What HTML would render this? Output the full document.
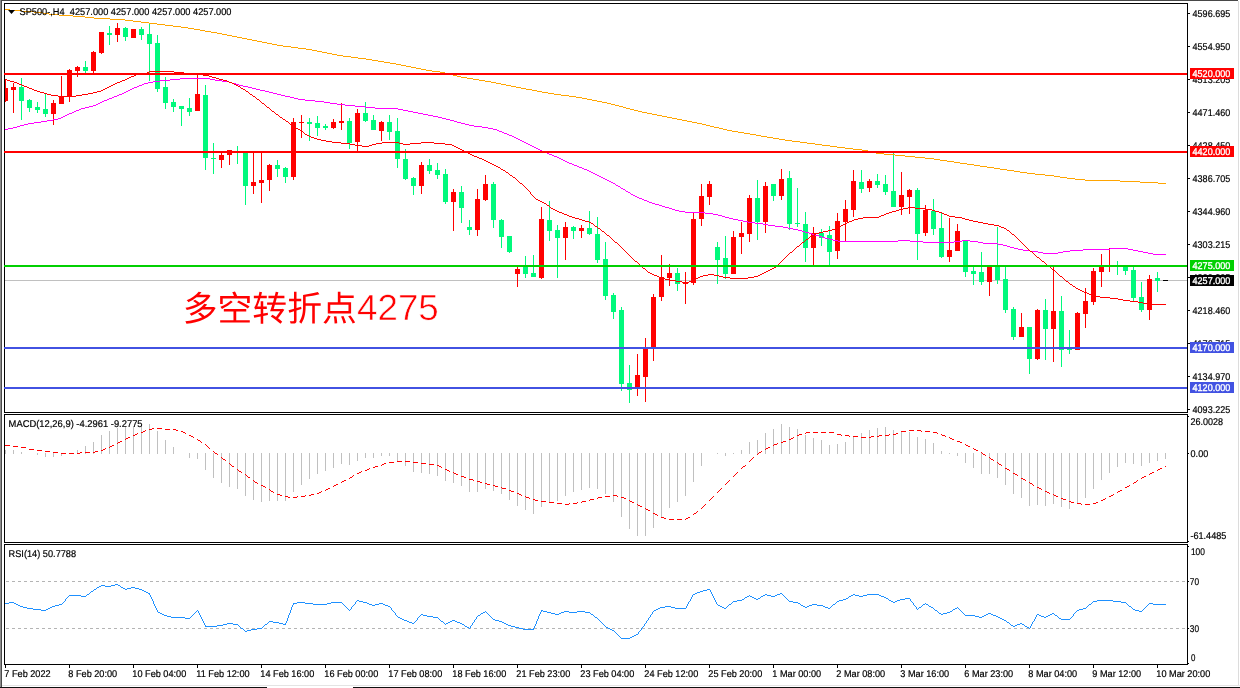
<!DOCTYPE html>
<html><head><meta charset="utf-8"><title>SP500 H4</title>
<style>
html,body{margin:0;padding:0;background:#fff;}
body{width:1240px;height:688px;overflow:hidden;}
svg{display:block;}
svg text{font-family:"Liberation Sans",sans-serif;font-size:9.8px;text-rendering:geometricPrecision;stroke:#000;stroke-width:0.2px;}
svg{will-change:transform;opacity:0.999;}
</style></head><body>
<svg width="1240" height="688" viewBox="0 0 1240 688">
<rect x="0" y="0" width="1240" height="688" fill="#ffffff"/>
<g shape-rendering="crispEdges">
<rect x="0" y="0" width="1238" height="1" fill="#484848"/>
<rect x="0" y="0" width="1" height="688" fill="#8c8c8c"/>
<rect x="1" y="0" width="1" height="688" fill="#4a4a4a"/>
<rect x="1238" y="1" width="1" height="685" fill="#dcdcdc"/>
<rect x="2" y="685" width="1238" height="1" fill="#e4e4e4"/>
<rect x="0" y="687" width="267" height="1" fill="#101010"/>
<rect x="353" y="687" width="887" height="1" fill="#101010"/>
<rect x="4" y="3" width="1184" height="1" fill="#000"/>
<rect x="4" y="412" width="1184" height="1" fill="#000"/>
<rect x="4" y="3" width="1" height="410" fill="#000"/>
<rect x="1187" y="3" width="1" height="410" fill="#000"/>
<rect x="4" y="414" width="1184" height="1" fill="#000"/>
<rect x="4" y="542" width="1184" height="1" fill="#000"/>
<rect x="4" y="414" width="1" height="129" fill="#000"/>
<rect x="1187" y="414" width="1" height="129" fill="#000"/>
<rect x="4" y="544" width="1184" height="1" fill="#000"/>
<rect x="4" y="664" width="1184" height="1" fill="#000"/>
<rect x="4" y="544" width="1" height="121" fill="#000"/>
<rect x="1187" y="544" width="1" height="121" fill="#000"/>
</g>
<g shape-rendering="crispEdges">
<rect x="5" y="280" width="1182" height="1" fill="#c0c0c0"/>
<rect x="5" y="79" width="1" height="23" fill="#ff0000"/>
<rect x="5" y="88" width="3" height="13" fill="#ff0000"/>
<rect x="13" y="83" width="1" height="30" fill="#ff0000"/>
<rect x="11" y="87" width="5" height="3" fill="#ff0000"/>
<rect x="21" y="78" width="1" height="42" fill="#00f97c"/>
<rect x="19" y="87" width="5" height="14" fill="#00f97c"/>
<rect x="29" y="99" width="1" height="13" fill="#00f97c"/>
<rect x="27" y="100" width="5" height="8" fill="#00f97c"/>
<rect x="37" y="102" width="1" height="11" fill="#00f97c"/>
<rect x="35" y="107" width="5" height="3" fill="#00f97c"/>
<rect x="45" y="94" width="1" height="23" fill="#00f97c"/>
<rect x="43" y="109" width="5" height="5" fill="#00f97c"/>
<rect x="53" y="100" width="1" height="25" fill="#ff0000"/>
<rect x="51" y="103" width="5" height="11" fill="#ff0000"/>
<rect x="61" y="76" width="1" height="28" fill="#ff0000"/>
<rect x="59" y="96" width="5" height="8" fill="#ff0000"/>
<rect x="69" y="69" width="1" height="33" fill="#ff0000"/>
<rect x="67" y="70" width="5" height="26" fill="#ff0000"/>
<rect x="77" y="66" width="1" height="11" fill="#ff0000"/>
<rect x="75" y="67" width="5" height="4" fill="#ff0000"/>
<rect x="85" y="61" width="1" height="12" fill="#00f97c"/>
<rect x="83" y="67" width="5" height="4" fill="#00f97c"/>
<rect x="93" y="51" width="1" height="22" fill="#ff0000"/>
<rect x="91" y="52" width="5" height="19" fill="#ff0000"/>
<rect x="101" y="32" width="1" height="22" fill="#ff0000"/>
<rect x="99" y="32" width="5" height="21" fill="#ff0000"/>
<rect x="109" y="26" width="1" height="19" fill="#00f97c"/>
<rect x="107" y="33" width="5" height="2" fill="#00f97c"/>
<rect x="117" y="23" width="1" height="19" fill="#ff0000"/>
<rect x="115" y="28" width="5" height="7" fill="#ff0000"/>
<rect x="125" y="27" width="1" height="14" fill="#00f97c"/>
<rect x="123" y="28" width="5" height="9" fill="#00f97c"/>
<rect x="133" y="29" width="1" height="9" fill="#ff0000"/>
<rect x="131" y="29" width="5" height="9" fill="#ff0000"/>
<rect x="141" y="27" width="1" height="13" fill="#00f97c"/>
<rect x="139" y="29" width="5" height="6" fill="#00f97c"/>
<rect x="149" y="24" width="1" height="57" fill="#00f97c"/>
<rect x="147" y="34" width="5" height="10" fill="#00f97c"/>
<rect x="157" y="35" width="1" height="57" fill="#00f97c"/>
<rect x="155" y="43" width="5" height="46" fill="#00f97c"/>
<rect x="165" y="77" width="1" height="32" fill="#00f97c"/>
<rect x="163" y="87" width="5" height="16" fill="#00f97c"/>
<rect x="173" y="99" width="1" height="13" fill="#00f97c"/>
<rect x="171" y="102" width="5" height="5" fill="#00f97c"/>
<rect x="181" y="106" width="1" height="20" fill="#00f97c"/>
<rect x="179" y="106" width="5" height="3" fill="#00f97c"/>
<rect x="189" y="98" width="1" height="18" fill="#00f97c"/>
<rect x="187" y="108" width="5" height="4" fill="#00f97c"/>
<rect x="197" y="74" width="1" height="37" fill="#ff0000"/>
<rect x="195" y="94" width="5" height="17" fill="#ff0000"/>
<rect x="205" y="85" width="1" height="85" fill="#00f97c"/>
<rect x="203" y="95" width="5" height="63" fill="#00f97c"/>
<rect x="213" y="143" width="1" height="31" fill="#00f97c"/>
<rect x="211" y="158" width="5" height="1" fill="#00f97c"/>
<rect x="221" y="153" width="1" height="15" fill="#ff0000"/>
<rect x="219" y="155" width="5" height="5" fill="#ff0000"/>
<rect x="229" y="150" width="1" height="15" fill="#ff0000"/>
<rect x="227" y="150" width="5" height="5" fill="#ff0000"/>
<rect x="237" y="146" width="1" height="18" fill="#00f97c"/>
<rect x="235" y="152" width="5" height="1" fill="#00f97c"/>
<rect x="245" y="152" width="1" height="53" fill="#00f97c"/>
<rect x="243" y="153" width="5" height="33" fill="#00f97c"/>
<rect x="253" y="153" width="1" height="41" fill="#ff0000"/>
<rect x="251" y="182" width="5" height="4" fill="#ff0000"/>
<rect x="261" y="153" width="1" height="50" fill="#ff0000"/>
<rect x="259" y="180" width="5" height="3" fill="#ff0000"/>
<rect x="269" y="164" width="1" height="27" fill="#ff0000"/>
<rect x="267" y="165" width="5" height="15" fill="#ff0000"/>
<rect x="277" y="160" width="1" height="17" fill="#00f97c"/>
<rect x="275" y="165" width="5" height="4" fill="#00f97c"/>
<rect x="285" y="167" width="1" height="16" fill="#00f97c"/>
<rect x="283" y="168" width="5" height="9" fill="#00f97c"/>
<rect x="293" y="118" width="1" height="62" fill="#ff0000"/>
<rect x="291" y="122" width="5" height="55" fill="#ff0000"/>
<rect x="301" y="115" width="1" height="23" fill="#ff0000"/>
<rect x="299" y="122" width="5" height="1" fill="#ff0000"/>
<rect x="309" y="118" width="1" height="23" fill="#00f97c"/>
<rect x="307" y="122" width="5" height="2" fill="#00f97c"/>
<rect x="317" y="116" width="1" height="20" fill="#00f97c"/>
<rect x="315" y="123" width="5" height="5" fill="#00f97c"/>
<rect x="325" y="124" width="1" height="6" fill="#00f97c"/>
<rect x="323" y="126" width="5" height="2" fill="#00f97c"/>
<rect x="333" y="119" width="1" height="10" fill="#ff0000"/>
<rect x="331" y="122" width="5" height="6" fill="#ff0000"/>
<rect x="341" y="103" width="1" height="27" fill="#ff0000"/>
<rect x="339" y="121" width="5" height="2" fill="#ff0000"/>
<rect x="349" y="118" width="1" height="31" fill="#00f97c"/>
<rect x="347" y="121" width="5" height="22" fill="#00f97c"/>
<rect x="357" y="109" width="1" height="42" fill="#ff0000"/>
<rect x="355" y="113" width="5" height="29" fill="#ff0000"/>
<rect x="365" y="102" width="1" height="20" fill="#00f97c"/>
<rect x="363" y="113" width="5" height="8" fill="#00f97c"/>
<rect x="373" y="115" width="1" height="15" fill="#00f97c"/>
<rect x="371" y="120" width="5" height="10" fill="#00f97c"/>
<rect x="381" y="121" width="1" height="20" fill="#ff0000"/>
<rect x="379" y="122" width="5" height="9" fill="#ff0000"/>
<rect x="389" y="115" width="1" height="25" fill="#00f97c"/>
<rect x="387" y="122" width="5" height="10" fill="#00f97c"/>
<rect x="397" y="118" width="1" height="50" fill="#00f97c"/>
<rect x="395" y="131" width="5" height="28" fill="#00f97c"/>
<rect x="405" y="149" width="1" height="31" fill="#00f97c"/>
<rect x="403" y="159" width="5" height="20" fill="#00f97c"/>
<rect x="413" y="177" width="1" height="18" fill="#00f97c"/>
<rect x="411" y="178" width="5" height="8" fill="#00f97c"/>
<rect x="421" y="162" width="1" height="32" fill="#ff0000"/>
<rect x="419" y="165" width="5" height="21" fill="#ff0000"/>
<rect x="429" y="159" width="1" height="15" fill="#00f97c"/>
<rect x="427" y="165" width="5" height="6" fill="#00f97c"/>
<rect x="437" y="163" width="1" height="16" fill="#00f97c"/>
<rect x="435" y="170" width="5" height="5" fill="#00f97c"/>
<rect x="445" y="169" width="1" height="35" fill="#00f97c"/>
<rect x="443" y="174" width="5" height="28" fill="#00f97c"/>
<rect x="453" y="189" width="1" height="42" fill="#ff0000"/>
<rect x="451" y="192" width="5" height="10" fill="#ff0000"/>
<rect x="461" y="186" width="1" height="37" fill="#00f97c"/>
<rect x="459" y="192" width="5" height="16" fill="#00f97c"/>
<rect x="469" y="220" width="1" height="15" fill="#00f97c"/>
<rect x="467" y="227" width="5" height="3" fill="#00f97c"/>
<rect x="477" y="189" width="1" height="47" fill="#ff0000"/>
<rect x="475" y="199" width="5" height="31" fill="#ff0000"/>
<rect x="485" y="175" width="1" height="26" fill="#ff0000"/>
<rect x="483" y="184" width="5" height="16" fill="#ff0000"/>
<rect x="493" y="182" width="1" height="46" fill="#00f97c"/>
<rect x="491" y="184" width="5" height="36" fill="#00f97c"/>
<rect x="501" y="219" width="1" height="29" fill="#00f97c"/>
<rect x="499" y="220" width="5" height="17" fill="#00f97c"/>
<rect x="509" y="236" width="1" height="17" fill="#00f97c"/>
<rect x="507" y="236" width="5" height="16" fill="#00f97c"/>
<rect x="517" y="267" width="1" height="20" fill="#ff0000"/>
<rect x="515" y="269" width="5" height="5" fill="#ff0000"/>
<rect x="525" y="256" width="1" height="22" fill="#00f97c"/>
<rect x="523" y="265" width="5" height="9" fill="#00f97c"/>
<rect x="533" y="255" width="1" height="22" fill="#00f97c"/>
<rect x="531" y="273" width="5" height="4" fill="#00f97c"/>
<rect x="541" y="207" width="1" height="72" fill="#ff0000"/>
<rect x="539" y="219" width="5" height="59" fill="#ff0000"/>
<rect x="549" y="201" width="1" height="40" fill="#00f97c"/>
<rect x="547" y="220" width="5" height="11" fill="#00f97c"/>
<rect x="557" y="225" width="1" height="53" fill="#00f97c"/>
<rect x="555" y="230" width="5" height="8" fill="#00f97c"/>
<rect x="565" y="222" width="1" height="38" fill="#ff0000"/>
<rect x="563" y="227" width="5" height="11" fill="#ff0000"/>
<rect x="573" y="226" width="1" height="13" fill="#00f97c"/>
<rect x="571" y="227" width="5" height="4" fill="#00f97c"/>
<rect x="581" y="225" width="1" height="13" fill="#ff0000"/>
<rect x="579" y="228" width="5" height="3" fill="#ff0000"/>
<rect x="589" y="211" width="1" height="24" fill="#00f97c"/>
<rect x="587" y="228" width="5" height="6" fill="#00f97c"/>
<rect x="597" y="217" width="1" height="46" fill="#00f97c"/>
<rect x="595" y="234" width="5" height="26" fill="#00f97c"/>
<rect x="605" y="242" width="1" height="58" fill="#00f97c"/>
<rect x="603" y="259" width="5" height="37" fill="#00f97c"/>
<rect x="613" y="293" width="1" height="26" fill="#00f97c"/>
<rect x="611" y="295" width="5" height="17" fill="#00f97c"/>
<rect x="621" y="307" width="1" height="84" fill="#00f97c"/>
<rect x="619" y="310" width="5" height="74" fill="#00f97c"/>
<rect x="629" y="365" width="1" height="38" fill="#00f97c"/>
<rect x="627" y="383" width="5" height="7" fill="#00f97c"/>
<rect x="637" y="354" width="1" height="42" fill="#ff0000"/>
<rect x="635" y="375" width="5" height="13" fill="#ff0000"/>
<rect x="645" y="338" width="1" height="64" fill="#ff0000"/>
<rect x="643" y="348" width="5" height="29" fill="#ff0000"/>
<rect x="653" y="294" width="1" height="67" fill="#ff0000"/>
<rect x="651" y="297" width="5" height="50" fill="#ff0000"/>
<rect x="661" y="255" width="1" height="46" fill="#ff0000"/>
<rect x="659" y="277" width="5" height="20" fill="#ff0000"/>
<rect x="669" y="264" width="1" height="22" fill="#ff0000"/>
<rect x="667" y="273" width="5" height="5" fill="#ff0000"/>
<rect x="677" y="268" width="1" height="23" fill="#00f97c"/>
<rect x="675" y="273" width="5" height="11" fill="#00f97c"/>
<rect x="685" y="272" width="1" height="32" fill="#ff0000"/>
<rect x="683" y="282" width="5" height="2" fill="#ff0000"/>
<rect x="693" y="213" width="1" height="72" fill="#ff0000"/>
<rect x="691" y="219" width="5" height="64" fill="#ff0000"/>
<rect x="701" y="184" width="1" height="42" fill="#ff0000"/>
<rect x="699" y="196" width="5" height="23" fill="#ff0000"/>
<rect x="709" y="181" width="1" height="24" fill="#ff0000"/>
<rect x="707" y="184" width="5" height="13" fill="#ff0000"/>
<rect x="717" y="242" width="1" height="42" fill="#00f97c"/>
<rect x="715" y="247" width="5" height="13" fill="#00f97c"/>
<rect x="725" y="236" width="1" height="43" fill="#00f97c"/>
<rect x="723" y="258" width="5" height="16" fill="#00f97c"/>
<rect x="733" y="231" width="1" height="43" fill="#ff0000"/>
<rect x="731" y="237" width="5" height="37" fill="#ff0000"/>
<rect x="741" y="222" width="1" height="32" fill="#ff0000"/>
<rect x="739" y="233" width="5" height="4" fill="#ff0000"/>
<rect x="749" y="195" width="1" height="47" fill="#ff0000"/>
<rect x="747" y="198" width="5" height="36" fill="#ff0000"/>
<rect x="757" y="180" width="1" height="60" fill="#00f97c"/>
<rect x="755" y="198" width="5" height="24" fill="#00f97c"/>
<rect x="765" y="182" width="1" height="51" fill="#ff0000"/>
<rect x="763" y="186" width="5" height="36" fill="#ff0000"/>
<rect x="773" y="184" width="1" height="17" fill="#00f97c"/>
<rect x="771" y="184" width="5" height="12" fill="#00f97c"/>
<rect x="781" y="169" width="1" height="31" fill="#ff0000"/>
<rect x="779" y="179" width="5" height="17" fill="#ff0000"/>
<rect x="789" y="171" width="1" height="59" fill="#00f97c"/>
<rect x="787" y="178" width="5" height="46" fill="#00f97c"/>
<rect x="797" y="188" width="1" height="39" fill="#00f97c"/>
<rect x="795" y="223" width="5" height="1" fill="#00f97c"/>
<rect x="805" y="212" width="1" height="50" fill="#00f97c"/>
<rect x="803" y="224" width="5" height="24" fill="#00f97c"/>
<rect x="813" y="227" width="1" height="38" fill="#ff0000"/>
<rect x="811" y="233" width="5" height="15" fill="#ff0000"/>
<rect x="821" y="229" width="1" height="17" fill="#00f97c"/>
<rect x="819" y="233" width="5" height="5" fill="#00f97c"/>
<rect x="829" y="226" width="1" height="39" fill="#00f97c"/>
<rect x="827" y="235" width="5" height="17" fill="#00f97c"/>
<rect x="837" y="213" width="1" height="46" fill="#ff0000"/>
<rect x="835" y="221" width="5" height="30" fill="#ff0000"/>
<rect x="845" y="200" width="1" height="41" fill="#ff0000"/>
<rect x="843" y="209" width="5" height="13" fill="#ff0000"/>
<rect x="853" y="170" width="1" height="47" fill="#ff0000"/>
<rect x="851" y="181" width="5" height="29" fill="#ff0000"/>
<rect x="861" y="170" width="1" height="23" fill="#00f97c"/>
<rect x="859" y="182" width="5" height="7" fill="#00f97c"/>
<rect x="869" y="179" width="1" height="13" fill="#ff0000"/>
<rect x="867" y="181" width="5" height="7" fill="#ff0000"/>
<rect x="877" y="174" width="1" height="14" fill="#00f97c"/>
<rect x="875" y="181" width="5" height="4" fill="#00f97c"/>
<rect x="885" y="175" width="1" height="20" fill="#00f97c"/>
<rect x="883" y="184" width="5" height="8" fill="#00f97c"/>
<rect x="893" y="153" width="1" height="54" fill="#00f97c"/>
<rect x="891" y="191" width="5" height="16" fill="#00f97c"/>
<rect x="901" y="172" width="1" height="43" fill="#ff0000"/>
<rect x="899" y="195" width="5" height="12" fill="#ff0000"/>
<rect x="909" y="189" width="1" height="25" fill="#ff0000"/>
<rect x="907" y="190" width="5" height="7" fill="#ff0000"/>
<rect x="917" y="188" width="1" height="72" fill="#00f97c"/>
<rect x="915" y="190" width="5" height="44" fill="#00f97c"/>
<rect x="925" y="205" width="1" height="31" fill="#ff0000"/>
<rect x="923" y="210" width="5" height="23" fill="#ff0000"/>
<rect x="933" y="199" width="1" height="36" fill="#00f97c"/>
<rect x="931" y="211" width="5" height="18" fill="#00f97c"/>
<rect x="941" y="212" width="1" height="46" fill="#00f97c"/>
<rect x="939" y="228" width="5" height="29" fill="#00f97c"/>
<rect x="949" y="218" width="1" height="44" fill="#ff0000"/>
<rect x="947" y="250" width="5" height="7" fill="#ff0000"/>
<rect x="957" y="224" width="1" height="27" fill="#ff0000"/>
<rect x="955" y="231" width="5" height="20" fill="#ff0000"/>
<rect x="965" y="240" width="1" height="37" fill="#00f97c"/>
<rect x="963" y="240" width="5" height="32" fill="#00f97c"/>
<rect x="973" y="267" width="1" height="18" fill="#00f97c"/>
<rect x="971" y="271" width="5" height="3" fill="#00f97c"/>
<rect x="981" y="252" width="1" height="33" fill="#00f97c"/>
<rect x="979" y="272" width="5" height="10" fill="#00f97c"/>
<rect x="989" y="267" width="1" height="29" fill="#ff0000"/>
<rect x="987" y="267" width="5" height="15" fill="#ff0000"/>
<rect x="997" y="227" width="1" height="57" fill="#00f97c"/>
<rect x="995" y="267" width="5" height="13" fill="#00f97c"/>
<rect x="1005" y="267" width="1" height="46" fill="#00f97c"/>
<rect x="1003" y="279" width="5" height="31" fill="#00f97c"/>
<rect x="1013" y="307" width="1" height="33" fill="#00f97c"/>
<rect x="1011" y="309" width="5" height="28" fill="#00f97c"/>
<rect x="1021" y="313" width="1" height="24" fill="#ff0000"/>
<rect x="1019" y="327" width="5" height="10" fill="#ff0000"/>
<rect x="1029" y="327" width="1" height="47" fill="#00f97c"/>
<rect x="1027" y="327" width="5" height="32" fill="#00f97c"/>
<rect x="1037" y="309" width="1" height="51" fill="#ff0000"/>
<rect x="1035" y="310" width="5" height="49" fill="#ff0000"/>
<rect x="1045" y="299" width="1" height="61" fill="#00f97c"/>
<rect x="1043" y="310" width="5" height="19" fill="#00f97c"/>
<rect x="1053" y="267" width="1" height="95" fill="#ff0000"/>
<rect x="1051" y="311" width="5" height="18" fill="#ff0000"/>
<rect x="1061" y="296" width="1" height="71" fill="#00f97c"/>
<rect x="1059" y="311" width="5" height="39" fill="#00f97c"/>
<rect x="1069" y="330" width="1" height="24" fill="#00f97c"/>
<rect x="1067" y="348" width="5" height="2" fill="#00f97c"/>
<rect x="1077" y="312" width="1" height="38" fill="#ff0000"/>
<rect x="1075" y="313" width="5" height="37" fill="#ff0000"/>
<rect x="1085" y="288" width="1" height="40" fill="#ff0000"/>
<rect x="1083" y="301" width="5" height="13" fill="#ff0000"/>
<rect x="1093" y="268" width="1" height="37" fill="#ff0000"/>
<rect x="1091" y="271" width="5" height="31" fill="#ff0000"/>
<rect x="1101" y="254" width="1" height="33" fill="#ff0000"/>
<rect x="1099" y="267" width="5" height="5" fill="#ff0000"/>
<rect x="1109" y="248" width="1" height="24" fill="#ff0000"/>
<rect x="1107" y="265" width="5" height="2" fill="#ff0000"/>
<rect x="1117" y="261" width="1" height="14" fill="#00f97c"/>
<rect x="1115" y="265" width="5" height="2" fill="#00f97c"/>
<rect x="1125" y="267" width="1" height="8" fill="#00f97c"/>
<rect x="1123" y="267" width="5" height="4" fill="#00f97c"/>
<rect x="1133" y="267" width="1" height="34" fill="#00f97c"/>
<rect x="1131" y="270" width="5" height="28" fill="#00f97c"/>
<rect x="1141" y="282" width="1" height="30" fill="#00f97c"/>
<rect x="1139" y="297" width="5" height="13" fill="#00f97c"/>
<rect x="1149" y="275" width="1" height="45" fill="#ff0000"/>
<rect x="1147" y="279" width="5" height="31" fill="#ff0000"/>
<rect x="1157" y="272" width="1" height="20" fill="#00f97c"/>
<rect x="1155" y="278" width="5" height="3" fill="#00f97c"/>
<rect x="1163" y="280" width="5" height="1" fill="#000"/>
</g>
<path d="M5 9.5h5M10 10.5h12M22 11.5h12M34 12.5h9M43 13.5h6M49 14.5h10M59 15.5h14M73 16.5h12M85 17.5h9M94 18.5h16M110 19.5h15M125 20.5h8M133 21.5h8M141 22.5h8M149 23.5h8M157 24.5h8M165 25.5h8M173 26.5h8M181 27.5h7M188 28.5h6M194 29.5h6M200 30.5h5M205 31.5h6M211 32.5h6M217 33.5h5M222 34.5h5M227 35.5h5M232 36.5h5M237 37.5h5M242 38.5h5M247 39.5h5M252 40.5h5M257 41.5h5M262 42.5h5M267 43.5h5M272 44.5h5M277 45.5h6M283 46.5h8M291 47.5h7M298 48.5h8M306 49.5h6M312 50.5h5M317 51.5h5M322 52.5h5M327 53.5h5M332 54.5h5M337 55.5h6M343 56.5h8M351 57.5h7M358 58.5h8M366 59.5h6M372 60.5h6M378 61.5h6M384 62.5h6M390 63.5h6M396 64.5h5M401 65.5h5M406 66.5h5M411 67.5h5M416 68.5h5M421 69.5h5M426 70.5h6M432 71.5h8M440 72.5h5M445 73.5h4M449 74.5h4M453 75.5h4M457 76.5h4M461 77.5h6M467 78.5h6M473 79.5h6M479 80.5h6M485 81.5h6M491 82.5h5M496 83.5h5M501 84.5h5M506 85.5h5M511 86.5h5M516 87.5h5M521 88.5h5M526 89.5h6M532 90.5h5M537 91.5h5M542 92.5h6M548 93.5h6M554 94.5h7M561 95.5h8M569 96.5h7M576 97.5h6M582 98.5h5M587 99.5h5M592 100.5h5M597 101.5h5M602 102.5h5M607 103.5h4M611 104.5h4M615 105.5h4M619 106.5h4M623 107.5h3M626 108.5h4M630 109.5h4M634 110.5h4M638 111.5h4M642 112.5h5M647 113.5h5M652 114.5h5M657 115.5h5M662 116.5h5M667 117.5h5M672 118.5h5M677 119.5h5M682 120.5h5M687 121.5h5M692 122.5h5M697 123.5h5M702 124.5h4M706 125.5h4M710 126.5h4M714 127.5h5M719 128.5h4M723 129.5h4M727 130.5h5M732 131.5h6M738 132.5h6M744 133.5h6M750 134.5h6M756 135.5h5M761 136.5h6M767 137.5h6M773 138.5h6M779 139.5h6M785 140.5h7M792 141.5h8M800 142.5h7M807 143.5h8M815 144.5h7M822 145.5h8M830 146.5h7M837 147.5h8M845 148.5h8M853 149.5h9M862 150.5h6M868 151.5h4M872 152.5h4M876 153.5h8M884 154.5h11M895 155.5h10M905 156.5h10M915 157.5h10M925 158.5h9M934 159.5h6M940 160.5h7M947 161.5h7M954 162.5h6M960 163.5h7M967 164.5h7M974 165.5h6M980 166.5h7M987 167.5h7M994 168.5h6M1000 169.5h7M1007 170.5h7M1014 171.5h6M1020 172.5h7M1027 173.5h8M1035 174.5h10M1045 175.5h9M1054 176.5h6M1060 177.5h7M1067 178.5h8M1075 179.5h10M1085 180.5h35M1120 181.5h20M1140 182.5h18M1158 183.5h8" stroke="#ffa500" stroke-width="1" fill="none" shape-rendering="crispEdges"/>
<path d="M180 78.5h30M170 79.5h10M210 79.5h5M160 80.5h10M215 80.5h7M153 81.5h7M222 81.5h7M148 82.5h5M229 82.5h3M144 83.5h4M232 83.5h4M142 84.5h2M236 84.5h3M139 85.5h3M239 85.5h4M137 86.5h2M243 86.5h5M134 87.5h3M248 87.5h4M132 88.5h2M252 88.5h4M130 89.5h2M256 89.5h4M128 90.5h2M260 90.5h5M126 91.5h2M265 91.5h4M124 92.5h2M269 92.5h4M122 93.5h2M273 93.5h4M119 94.5h3M277 94.5h4M117 95.5h2M281 95.5h4M114 96.5h3M285 96.5h5M112 97.5h2M290 97.5h4M109 98.5h3M294 98.5h4M107 99.5h2M298 99.5h7M104 100.5h3M305 100.5h10M102 101.5h2M315 101.5h9M100 102.5h2M324 102.5h6M98 103.5h2M330 103.5h7M96 104.5h2M337 104.5h8M93 105.5h3M345 105.5h10M89 106.5h4M355 106.5h10M85 107.5h4M365 107.5h10M81 108.5h4M375 108.5h23M79 109.5h2M398 109.5h5M76 110.5h3M403 110.5h5M74 111.5h2M408 111.5h5M72 112.5h2M413 112.5h5M69 113.5h3M418 113.5h5M67 114.5h2M423 114.5h5M65 115.5h2M428 115.5h5M63 116.5h2M433 116.5h5M61 117.5h2M438 117.5h4M58 118.5h3M442 118.5h4M53 119.5h5M446 119.5h4M47 120.5h6M450 120.5h4M41 121.5h6M454 121.5h3M34 122.5h7M457 122.5h4M28 123.5h6M461 123.5h4M24 124.5h4M465 124.5h4M20 125.5h4M469 125.5h5M17 126.5h3M474 126.5h8M13 127.5h4M482 127.5h6M8 128.5h5M488 128.5h5M5 129.5h3M493 129.5h4M497 130.5h2M499 131.5h3M502 132.5h2M504 133.5h3M507 134.5h2M509 135.5h3M512 136.5h2M514 137.5h2M516 138.5h2M518 139.5h2M520 140.5h2M522 141.5h2M524 142.5h2M526 143.5h2M528 144.5h2M530 145.5h2M532 146.5h2M534 147.5h2M536 148.5h2M538 149.5h2M540 150.5h2M542 151.5h2M544 152.5h3M547 153.5h2M549 154.5h3M552 155.5h2M554 156.5h3M557 157.5h2M559 158.5h2M561 159.5h2M563 160.5h2M565 161.5h2M567 162.5h2M569 163.5h3M572 164.5h2M574 165.5h3M577 166.5h2M579 167.5h3M582 168.5h2M584 169.5h3M587 170.5h2M589 171.5h2M591 172.5h2M593 173.5h2M595 174.5h2M597 175.5h2M599 176.5h2M601 177.5h2M603 178.5h2M605 179.5h2M607 180.5h2M609 181.5h2M611 182.5h2M613 183.5h2M615 184.5h1M616 185.5h2M618 186.5h2M620 187.5h1M621 188.5h2M623 189.5h2M625 190.5h1M626 191.5h2M628 192.5h2M630 193.5h1M631 194.5h2M633 195.5h2M635 196.5h2M637 197.5h2M639 198.5h3M642 199.5h2M644 200.5h3M647 201.5h2M649 202.5h3M652 203.5h3M655 204.5h4M659 205.5h3M662 206.5h3M665 207.5h4M669 208.5h3M672 209.5h3M675 210.5h4M679 211.5h6M685 212.5h20M705 213.5h8M713 214.5h5M718 215.5h4M722 216.5h3M725 217.5h4M729 218.5h4M733 219.5h5M738 220.5h5M743 221.5h5M748 222.5h7M755 223.5h8M763 224.5h5M768 225.5h7M775 226.5h8M783 227.5h5M788 228.5h5M793 229.5h5M798 230.5h4M802 231.5h3M805 232.5h4M809 233.5h3M812 234.5h3M815 235.5h4M819 236.5h3M822 237.5h3M825 238.5h4M829 239.5h4M833 240.5h5M898 240.5h12M962 240.5h8M838 241.5h60M910 241.5h13M954 241.5h8M970 241.5h8M923 242.5h31M978 242.5h5M983 243.5h15M998 244.5h5M1003 245.5h4M1007 246.5h3M1010 247.5h4M1014 248.5h4M1110 248.5h18M1018 249.5h5M1083 249.5h27M1128 249.5h5M1023 250.5h7M1070 250.5h13M1133 250.5h5M1030 251.5h8M1063 251.5h7M1138 251.5h5M1038 252.5h5M1058 252.5h5M1143 252.5h5M1043 253.5h15M1148 253.5h5M1153 254.5h13" stroke="#ff00ff" stroke-width="1" fill="none" shape-rendering="crispEdges"/>
<path d="M149 71.5h25M147 72.5h2M174 72.5h10M141 73.5h6M184 73.5h11M136 74.5h5M195 74.5h8M134 75.5h2M203 75.5h6M131 76.5h3M209 76.5h3M129 77.5h2M212 77.5h4M127 78.5h2M216 78.5h3M5 79.5h2M125 79.5h2M219 79.5h4M7 80.5h3M122 80.5h3M223 80.5h4M10 81.5h4M120 81.5h2M227 81.5h2M14 82.5h3M117 82.5h3M229 82.5h3M17 83.5h2M115 83.5h2M232 83.5h2M19 84.5h3M113 84.5h2M234 84.5h2M22 85.5h2M111 85.5h2M236 85.5h2M24 86.5h3M109 86.5h2M238 86.5h2M27 87.5h2M107 87.5h2M240 87.5h1M29 88.5h3M105 88.5h2M241 88.5h2M32 89.5h2M103 89.5h2M243 89.5h2M34 90.5h3M101 90.5h2M245 90.5h1M37 91.5h3M97 91.5h4M246 91.5h2M40 92.5h4M93 92.5h4M248 92.5h1M44 93.5h3M88 93.5h5M249 93.5h1M47 94.5h4M82 94.5h6M250 94.5h2M51 95.5h7M76 95.5h6M252 95.5h1M58 96.5h18M253 96.5h2M255 97.5h1M256 98.5h1M257 99.5h2M259 100.5h1M260 101.5h1M261 102.5h1M262 103.5h2M264 104.5h1M265 105.5h1M266 106.5h1M267 107.5h2M269 108.5h1M270 109.5h1M271 110.5h1M272 111.5h2M274 112.5h1M275 113.5h1M276 114.5h2M278 115.5h1M279 116.5h1M280 117.5h2M282 118.5h1M283 119.5h2M285 120.5h1M286 121.5h2M288 122.5h1M289 123.5h1M290 124.5h2M292 125.5h1M293 126.5h2M295 127.5h1M296 128.5h2M298 129.5h2M300 130.5h1M301 131.5h2M303 132.5h1M304 133.5h1M305 134.5h2M307 135.5h2M309 136.5h2M311 137.5h3M314 138.5h3M317 139.5h4M321 140.5h5M326 141.5h6M332 142.5h9M382 142.5h17M421 142.5h13M341 143.5h9M376 143.5h6M399 143.5h4M410 143.5h11M434 143.5h11M350 144.5h5M372 144.5h4M403 144.5h7M445 144.5h7M355 145.5h7M369 145.5h3M452 145.5h2M362 146.5h7M454 146.5h2M456 147.5h2M458 148.5h2M460 149.5h2M462 150.5h2M464 151.5h2M466 152.5h2M468 153.5h2M470 154.5h2M472 155.5h2M474 156.5h3M477 157.5h2M479 158.5h3M482 159.5h2M484 160.5h2M486 161.5h2M488 162.5h2M490 163.5h2M492 164.5h2M494 165.5h2M496 166.5h2M498 167.5h2M500 168.5h1M501 169.5h2M503 170.5h2M505 171.5h1M506 172.5h2M508 173.5h1M509 174.5h1M510 175.5h2M512 176.5h1M513 177.5h2M515 178.5h1M516 179.5h1M517 180.5h1M518 181.5h1M519 182.5h1M520 183.5h2M522 184.5h1M523 185.5h1M524 186.5h1M525 187.5h1M526 188.5h1M527 189.5h1M528 190.5h1M529 191.5h1M530 192.5h1M530 193.5h1M531 194.5h1M532 195.5h1M533 196.5h1M534 197.5h1M535 198.5h1M536 199.5h2M538 200.5h2M540 201.5h2M542 202.5h2M544 203.5h2M546 204.5h1M547 205.5h2M549 206.5h1M550 207.5h1M908 207.5h7M551 208.5h2M903 208.5h5M915 208.5h10M553 209.5h2M899 209.5h4M925 209.5h7M555 210.5h2M896 210.5h3M932 210.5h3M557 211.5h2M892 211.5h4M935 211.5h4M559 212.5h3M889 212.5h3M939 212.5h3M562 213.5h2M886 213.5h3M942 213.5h2M564 214.5h3M884 214.5h2M944 214.5h3M567 215.5h2M881 215.5h3M947 215.5h2M569 216.5h3M879 216.5h2M949 216.5h6M572 217.5h3M863 217.5h16M955 217.5h7M575 218.5h4M858 218.5h5M962 218.5h3M579 219.5h3M854 219.5h4M965 219.5h4M582 220.5h3M852 220.5h2M969 220.5h4M585 221.5h4M849 221.5h3M973 221.5h5M589 222.5h2M847 222.5h2M978 222.5h5M591 223.5h2M845 223.5h2M983 223.5h5M593 224.5h1M843 224.5h2M988 224.5h6M594 225.5h1M841 225.5h2M994 225.5h5M595 226.5h2M840 226.5h1M999 226.5h2M597 227.5h1M838 227.5h2M1001 227.5h3M598 228.5h2M836 228.5h2M1004 228.5h2M600 229.5h1M832 229.5h4M1006 229.5h1M601 230.5h1M828 230.5h4M1007 230.5h2M602 231.5h2M823 231.5h5M1009 231.5h1M604 232.5h1M819 232.5h4M1010 232.5h1M605 233.5h1M816 233.5h3M1011 233.5h1M606 234.5h1M814 234.5h2M1012 234.5h2M607 235.5h2M812 235.5h2M1014 235.5h1M609 236.5h1M810 236.5h2M1015 236.5h1M610 237.5h1M809 237.5h1M1016 237.5h1M611 238.5h1M808 238.5h1M1017 238.5h1M612 239.5h1M806 239.5h2M1018 239.5h1M613 240.5h1M805 240.5h1M1019 240.5h1M614 241.5h1M804 241.5h1M1020 241.5h1M615 242.5h2M802 242.5h2M1021 242.5h1M617 243.5h1M801 243.5h1M1022 243.5h1M618 244.5h1M800 244.5h1M1023 244.5h1M619 245.5h1M799 245.5h1M1024 245.5h1M620 246.5h1M797 246.5h2M1025 246.5h1M621 247.5h1M796 247.5h1M1026 247.5h1M622 248.5h1M795 248.5h1M1027 248.5h1M623 249.5h1M794 249.5h1M1028 249.5h1M624 250.5h1M793 250.5h1M1029 250.5h1M625 251.5h1M792 251.5h1M1030 251.5h2M626 252.5h1M790 252.5h2M1032 252.5h1M627 253.5h1M789 253.5h1M1033 253.5h1M628 254.5h1M788 254.5h1M1034 254.5h1M629 255.5h1M787 255.5h1M1035 255.5h1M630 256.5h1M786 256.5h1M1036 256.5h1M631 257.5h1M785 257.5h1M1037 257.5h2M632 258.5h1M784 258.5h1M1039 258.5h1M633 259.5h1M783 259.5h1M1040 259.5h1M634 260.5h1M782 260.5h1M1041 260.5h1M635 261.5h2M781 261.5h1M1042 261.5h2M637 262.5h1M780 262.5h1M1044 262.5h1M638 263.5h1M779 263.5h1M1045 263.5h1M639 264.5h1M778 264.5h1M1046 264.5h1M640 265.5h1M777 265.5h1M1047 265.5h2M641 266.5h1M776 266.5h1M1049 266.5h1M642 267.5h1M774 267.5h2M1050 267.5h1M643 268.5h2M772 268.5h2M1051 268.5h1M645 269.5h1M770 269.5h2M1052 269.5h2M646 270.5h1M768 270.5h2M1054 270.5h1M647 271.5h1M766 271.5h2M1055 271.5h1M648 272.5h2M764 272.5h2M1056 272.5h1M650 273.5h2M762 273.5h2M1057 273.5h1M652 274.5h2M708 274.5h6M760 274.5h2M1058 274.5h1M654 275.5h3M703 275.5h5M714 275.5h5M758 275.5h2M1059 275.5h1M657 276.5h2M700 276.5h3M719 276.5h4M754 276.5h4M1060 276.5h2M659 277.5h2M698 277.5h2M723 277.5h7M748 277.5h6M1062 277.5h1M661 278.5h4M696 278.5h2M730 278.5h18M1063 278.5h1M665 279.5h5M695 279.5h1M1064 279.5h1M670 280.5h6M693 280.5h2M1065 280.5h1M676 281.5h6M689 281.5h4M1066 281.5h2M682 282.5h7M1068 282.5h1M1069 283.5h1M1070 284.5h2M1072 285.5h1M1073 286.5h2M1075 287.5h1M1076 288.5h2M1078 289.5h2M1080 290.5h2M1082 291.5h2M1084 292.5h3M1087 293.5h2M1089 294.5h3M1092 295.5h2M1094 296.5h6M1100 297.5h10M1110 298.5h8M1118 299.5h5M1123 300.5h7M1130 301.5h8M1138 302.5h5M1143 303.5h7M1150 304.5h16" stroke="#ff0000" stroke-width="1" fill="none" shape-rendering="crispEdges"/>
<g shape-rendering="crispEdges">
<rect x="4" y="73" width="1183" height="2" fill="#ff0000"/>
<rect x="4" y="151" width="1183" height="2" fill="#ff0000"/>
<rect x="4" y="265" width="1183" height="2" fill="#00d000"/>
<rect x="4" y="347" width="1183" height="2" fill="#4252e2"/>
<rect x="4" y="387" width="1183" height="2" fill="#4252e2"/>
</g>
<path d="M8 10 L15 10 L11.5 14 Z" fill="#000"/>
<text x="19.5" y="15" fill="#000" textLength="212" lengthAdjust="spacingAndGlyphs">SP500-,H4&#160; 4257.000 4257.000 4257.000 4257.000</text>
<g shape-rendering="crispEdges">
<rect x="1188" y="13" width="2" height="1" fill="#000"/>
<rect x="1188" y="46" width="2" height="1" fill="#000"/>
<rect x="1188" y="79" width="2" height="1" fill="#000"/>
<rect x="1188" y="112" width="2" height="1" fill="#000"/>
<rect x="1188" y="145" width="2" height="1" fill="#000"/>
<rect x="1188" y="178" width="2" height="1" fill="#000"/>
<rect x="1188" y="211" width="2" height="1" fill="#000"/>
<rect x="1188" y="244" width="2" height="1" fill="#000"/>
<rect x="1188" y="277" width="2" height="1" fill="#000"/>
<rect x="1188" y="310" width="2" height="1" fill="#000"/>
<rect x="1188" y="343" width="2" height="1" fill="#000"/>
<rect x="1188" y="376" width="2" height="1" fill="#000"/>
<rect x="1188" y="409" width="2" height="1" fill="#000"/>
<rect x="1188" y="453" width="1" height="1" fill="#000"/>
</g>
<text x="1192.6" y="17" fill="#000" textLength="37.6" lengthAdjust="spacingAndGlyphs">4596.695</text>
<text x="1192.6" y="50" fill="#000" textLength="37.6" lengthAdjust="spacingAndGlyphs">4554.950</text>
<text x="1192.6" y="83" fill="#000" textLength="37.6" lengthAdjust="spacingAndGlyphs">4513.205</text>
<text x="1192.6" y="116" fill="#000" textLength="37.6" lengthAdjust="spacingAndGlyphs">4471.460</text>
<text x="1192.6" y="149" fill="#000" textLength="37.6" lengthAdjust="spacingAndGlyphs">4428.450</text>
<text x="1192.6" y="182" fill="#000" textLength="37.6" lengthAdjust="spacingAndGlyphs">4386.705</text>
<text x="1192.6" y="215" fill="#000" textLength="37.6" lengthAdjust="spacingAndGlyphs">4344.960</text>
<text x="1192.6" y="248" fill="#000" textLength="37.6" lengthAdjust="spacingAndGlyphs">4303.215</text>
<text x="1192.6" y="281" fill="#000" textLength="37.6" lengthAdjust="spacingAndGlyphs">4260.205</text>
<text x="1192.6" y="314" fill="#000" textLength="37.6" lengthAdjust="spacingAndGlyphs">4218.460</text>
<text x="1192.6" y="347" fill="#000" textLength="37.6" lengthAdjust="spacingAndGlyphs">4176.715</text>
<text x="1192.6" y="380" fill="#000" textLength="37.6" lengthAdjust="spacingAndGlyphs">4134.970</text>
<text x="1192.6" y="413" fill="#000" textLength="37.6" lengthAdjust="spacingAndGlyphs">4093.225</text>
<rect x="1190" y="68" width="44" height="11" fill="#ff0000" shape-rendering="crispEdges"/>
<text x="1192.6" y="77.4" fill="#fff" textLength="37.6" lengthAdjust="spacingAndGlyphs" style="stroke:#fff;stroke-width:0.35px">4520.000</text>
<rect x="1190" y="146" width="44" height="11" fill="#ff0000" shape-rendering="crispEdges"/>
<text x="1192.6" y="155.4" fill="#fff" textLength="37.6" lengthAdjust="spacingAndGlyphs" style="stroke:#fff;stroke-width:0.35px">4420.000</text>
<rect x="1190" y="260" width="44" height="11" fill="#00d000" shape-rendering="crispEdges"/>
<text x="1192.6" y="269.4" fill="#fff" textLength="37.6" lengthAdjust="spacingAndGlyphs" style="stroke:#fff;stroke-width:0.35px">4275.000</text>
<rect x="1190" y="342" width="44" height="11" fill="#4252e2" shape-rendering="crispEdges"/>
<text x="1192.6" y="351.4" fill="#fff" textLength="37.6" lengthAdjust="spacingAndGlyphs" style="stroke:#fff;stroke-width:0.35px">4170.000</text>
<rect x="1190" y="382" width="44" height="11" fill="#4252e2" shape-rendering="crispEdges"/>
<text x="1192.6" y="391.4" fill="#fff" textLength="37.6" lengthAdjust="spacingAndGlyphs" style="stroke:#fff;stroke-width:0.35px">4120.000</text>
<rect x="1190" y="275" width="44" height="11" fill="#000" shape-rendering="crispEdges"/>
<text x="1192.6" y="284.4" fill="#fff" textLength="37.6" lengthAdjust="spacingAndGlyphs" style="stroke:#fff;stroke-width:0.35px">4257.000</text>
<text x="182.7" y="320.8" fill="#ff0000" style="font-family:'Liberation Sans','Noto Sans CJK SC',sans-serif;font-size:34.8px;stroke:none;text-rendering:geometricPrecision" textLength="174.2" lengthAdjust="spacingAndGlyphs">多空转折点</text>
<text x="357.0" y="319.6" fill="#ff0000" style="font-size:36.4px;stroke:#fff;stroke-width:0.55px;text-rendering:geometricPrecision" textLength="81.8" lengthAdjust="spacingAndGlyphs">4275</text>
<g shape-rendering="crispEdges">
<rect x="5" y="450" width="1" height="4" fill="#c0c0c0"/>
<rect x="13" y="450" width="1" height="4" fill="#c0c0c0"/>
<rect x="21" y="452" width="1" height="2" fill="#c0c0c0"/>
<rect x="37" y="453" width="1" height="2" fill="#c0c0c0"/>
<rect x="45" y="453" width="1" height="4" fill="#c0c0c0"/>
<rect x="53" y="453" width="1" height="4" fill="#c0c0c0"/>
<rect x="61" y="453" width="1" height="3" fill="#c0c0c0"/>
<rect x="77" y="450" width="1" height="4" fill="#c0c0c0"/>
<rect x="85" y="446" width="1" height="8" fill="#c0c0c0"/>
<rect x="93" y="442" width="1" height="12" fill="#c0c0c0"/>
<rect x="101" y="435" width="1" height="19" fill="#c0c0c0"/>
<rect x="109" y="431" width="1" height="23" fill="#c0c0c0"/>
<rect x="117" y="428" width="1" height="26" fill="#c0c0c0"/>
<rect x="125" y="426" width="1" height="28" fill="#c0c0c0"/>
<rect x="133" y="426" width="1" height="28" fill="#c0c0c0"/>
<rect x="141" y="425" width="1" height="29" fill="#c0c0c0"/>
<rect x="149" y="424" width="1" height="30" fill="#c0c0c0"/>
<rect x="157" y="431" width="1" height="23" fill="#c0c0c0"/>
<rect x="165" y="440" width="1" height="14" fill="#c0c0c0"/>
<rect x="173" y="447" width="1" height="7" fill="#c0c0c0"/>
<rect x="189" y="453" width="1" height="5" fill="#c0c0c0"/>
<rect x="197" y="453" width="1" height="6" fill="#c0c0c0"/>
<rect x="205" y="453" width="1" height="17" fill="#c0c0c0"/>
<rect x="213" y="453" width="1" height="25" fill="#c0c0c0"/>
<rect x="221" y="453" width="1" height="30" fill="#c0c0c0"/>
<rect x="229" y="453" width="1" height="34" fill="#c0c0c0"/>
<rect x="237" y="453" width="1" height="36" fill="#c0c0c0"/>
<rect x="245" y="453" width="1" height="43" fill="#c0c0c0"/>
<rect x="253" y="453" width="1" height="47" fill="#c0c0c0"/>
<rect x="261" y="453" width="1" height="49" fill="#c0c0c0"/>
<rect x="269" y="453" width="1" height="48" fill="#c0c0c0"/>
<rect x="277" y="453" width="1" height="48" fill="#c0c0c0"/>
<rect x="285" y="453" width="1" height="48" fill="#c0c0c0"/>
<rect x="293" y="453" width="1" height="39" fill="#c0c0c0"/>
<rect x="301" y="453" width="1" height="32" fill="#c0c0c0"/>
<rect x="309" y="453" width="1" height="26" fill="#c0c0c0"/>
<rect x="317" y="453" width="1" height="21" fill="#c0c0c0"/>
<rect x="325" y="453" width="1" height="18" fill="#c0c0c0"/>
<rect x="333" y="453" width="1" height="15" fill="#c0c0c0"/>
<rect x="341" y="453" width="1" height="11" fill="#c0c0c0"/>
<rect x="349" y="453" width="1" height="12" fill="#c0c0c0"/>
<rect x="357" y="453" width="1" height="8" fill="#c0c0c0"/>
<rect x="365" y="453" width="1" height="5" fill="#c0c0c0"/>
<rect x="373" y="453" width="1" height="5" fill="#c0c0c0"/>
<rect x="381" y="453" width="1" height="3" fill="#c0c0c0"/>
<rect x="389" y="453" width="1" height="3" fill="#c0c0c0"/>
<rect x="397" y="453" width="1" height="8" fill="#c0c0c0"/>
<rect x="405" y="453" width="1" height="13" fill="#c0c0c0"/>
<rect x="413" y="453" width="1" height="19" fill="#c0c0c0"/>
<rect x="421" y="453" width="1" height="20" fill="#c0c0c0"/>
<rect x="429" y="453" width="1" height="21" fill="#c0c0c0"/>
<rect x="437" y="453" width="1" height="23" fill="#c0c0c0"/>
<rect x="445" y="453" width="1" height="28" fill="#c0c0c0"/>
<rect x="453" y="453" width="1" height="30" fill="#c0c0c0"/>
<rect x="461" y="453" width="1" height="33" fill="#c0c0c0"/>
<rect x="469" y="453" width="1" height="39" fill="#c0c0c0"/>
<rect x="477" y="453" width="1" height="39" fill="#c0c0c0"/>
<rect x="485" y="453" width="1" height="36" fill="#c0c0c0"/>
<rect x="493" y="453" width="1" height="38" fill="#c0c0c0"/>
<rect x="501" y="453" width="1" height="41" fill="#c0c0c0"/>
<rect x="509" y="453" width="1" height="47" fill="#c0c0c0"/>
<rect x="517" y="453" width="1" height="53" fill="#c0c0c0"/>
<rect x="525" y="453" width="1" height="57" fill="#c0c0c0"/>
<rect x="533" y="453" width="1" height="61" fill="#c0c0c0"/>
<rect x="541" y="453" width="1" height="54" fill="#c0c0c0"/>
<rect x="549" y="453" width="1" height="49" fill="#c0c0c0"/>
<rect x="557" y="453" width="1" height="48" fill="#c0c0c0"/>
<rect x="565" y="453" width="1" height="43" fill="#c0c0c0"/>
<rect x="573" y="453" width="1" height="39" fill="#c0c0c0"/>
<rect x="581" y="453" width="1" height="37" fill="#c0c0c0"/>
<rect x="589" y="453" width="1" height="35" fill="#c0c0c0"/>
<rect x="597" y="453" width="1" height="36" fill="#c0c0c0"/>
<rect x="605" y="453" width="1" height="41" fill="#c0c0c0"/>
<rect x="613" y="453" width="1" height="49" fill="#c0c0c0"/>
<rect x="621" y="453" width="1" height="64" fill="#c0c0c0"/>
<rect x="629" y="453" width="1" height="76" fill="#c0c0c0"/>
<rect x="637" y="453" width="1" height="83" fill="#c0c0c0"/>
<rect x="645" y="453" width="1" height="83" fill="#c0c0c0"/>
<rect x="653" y="453" width="1" height="75" fill="#c0c0c0"/>
<rect x="661" y="453" width="1" height="64" fill="#c0c0c0"/>
<rect x="669" y="453" width="1" height="55" fill="#c0c0c0"/>
<rect x="677" y="453" width="1" height="49" fill="#c0c0c0"/>
<rect x="685" y="453" width="1" height="43" fill="#c0c0c0"/>
<rect x="693" y="453" width="1" height="29" fill="#c0c0c0"/>
<rect x="701" y="453" width="1" height="13" fill="#c0c0c0"/>
<rect x="717" y="453" width="1" height="1" fill="#c0c0c0"/>
<rect x="725" y="453" width="1" height="3" fill="#c0c0c0"/>
<rect x="733" y="453" width="1" height="1" fill="#c0c0c0"/>
<rect x="741" y="450" width="1" height="4" fill="#c0c0c0"/>
<rect x="749" y="442" width="1" height="12" fill="#c0c0c0"/>
<rect x="757" y="440" width="1" height="14" fill="#c0c0c0"/>
<rect x="765" y="433" width="1" height="21" fill="#c0c0c0"/>
<rect x="773" y="429" width="1" height="25" fill="#c0c0c0"/>
<rect x="781" y="424" width="1" height="30" fill="#c0c0c0"/>
<rect x="789" y="427" width="1" height="27" fill="#c0c0c0"/>
<rect x="797" y="429" width="1" height="25" fill="#c0c0c0"/>
<rect x="805" y="435" width="1" height="19" fill="#c0c0c0"/>
<rect x="813" y="438" width="1" height="16" fill="#c0c0c0"/>
<rect x="821" y="440" width="1" height="14" fill="#c0c0c0"/>
<rect x="829" y="445" width="1" height="9" fill="#c0c0c0"/>
<rect x="837" y="444" width="1" height="10" fill="#c0c0c0"/>
<rect x="845" y="442" width="1" height="12" fill="#c0c0c0"/>
<rect x="853" y="437" width="1" height="17" fill="#c0c0c0"/>
<rect x="861" y="433" width="1" height="21" fill="#c0c0c0"/>
<rect x="869" y="430" width="1" height="24" fill="#c0c0c0"/>
<rect x="877" y="428" width="1" height="26" fill="#c0c0c0"/>
<rect x="885" y="427" width="1" height="27" fill="#c0c0c0"/>
<rect x="893" y="430" width="1" height="24" fill="#c0c0c0"/>
<rect x="901" y="431" width="1" height="23" fill="#c0c0c0"/>
<rect x="909" y="432" width="1" height="22" fill="#c0c0c0"/>
<rect x="917" y="437" width="1" height="17" fill="#c0c0c0"/>
<rect x="925" y="439" width="1" height="15" fill="#c0c0c0"/>
<rect x="933" y="443" width="1" height="11" fill="#c0c0c0"/>
<rect x="941" y="451" width="1" height="3" fill="#c0c0c0"/>
<rect x="949" y="453" width="1" height="1" fill="#c0c0c0"/>
<rect x="957" y="453" width="1" height="3" fill="#c0c0c0"/>
<rect x="965" y="453" width="1" height="10" fill="#c0c0c0"/>
<rect x="973" y="453" width="1" height="15" fill="#c0c0c0"/>
<rect x="981" y="453" width="1" height="21" fill="#c0c0c0"/>
<rect x="989" y="453" width="1" height="21" fill="#c0c0c0"/>
<rect x="997" y="453" width="1" height="25" fill="#c0c0c0"/>
<rect x="1005" y="453" width="1" height="32" fill="#c0c0c0"/>
<rect x="1013" y="453" width="1" height="41" fill="#c0c0c0"/>
<rect x="1021" y="453" width="1" height="45" fill="#c0c0c0"/>
<rect x="1029" y="453" width="1" height="53" fill="#c0c0c0"/>
<rect x="1037" y="453" width="1" height="52" fill="#c0c0c0"/>
<rect x="1045" y="453" width="1" height="53" fill="#c0c0c0"/>
<rect x="1053" y="453" width="1" height="51" fill="#c0c0c0"/>
<rect x="1061" y="453" width="1" height="54" fill="#c0c0c0"/>
<rect x="1069" y="453" width="1" height="56" fill="#c0c0c0"/>
<rect x="1077" y="453" width="1" height="51" fill="#c0c0c0"/>
<rect x="1085" y="453" width="1" height="45" fill="#c0c0c0"/>
<rect x="1093" y="453" width="1" height="36" fill="#c0c0c0"/>
<rect x="1101" y="453" width="1" height="27" fill="#c0c0c0"/>
<rect x="1109" y="453" width="1" height="20" fill="#c0c0c0"/>
<rect x="1117" y="453" width="1" height="14" fill="#c0c0c0"/>
<rect x="1125" y="453" width="1" height="10" fill="#c0c0c0"/>
<rect x="1133" y="453" width="1" height="11" fill="#c0c0c0"/>
<rect x="1141" y="453" width="1" height="13" fill="#c0c0c0"/>
<rect x="1149" y="453" width="1" height="10" fill="#c0c0c0"/>
<rect x="1157" y="453" width="1" height="8" fill="#c0c0c0"/>
<rect x="1165" y="453" width="1" height="6" fill="#c0c0c0"/>
</g>
<path d="M152 428.5h2M157 428.5h5M149 429.5h3M165 429.5h5M173 429.5h3M145 430.5h1M176 430.5h2M909 430.5h5M917 430.5h4M143 431.5h2M181 431.5h2M901 431.5h5M921 431.5h1M925 431.5h5M141 432.5h2M183 432.5h2M806 432.5h4M813 432.5h5M821 432.5h5M829 432.5h5M933 432.5h4M137 433.5h1M185 433.5h1M805 433.5h1M896 433.5h2M937 433.5h1M135 434.5h2M799 434.5h3M837 434.5h4M889 434.5h1M893 434.5h3M941 434.5h1M133 435.5h2M189 435.5h2M797 435.5h2M841 435.5h1M845 435.5h4M879 435.5h3M885 435.5h4M942 435.5h3M191 436.5h2M849 436.5h1M853 436.5h5M871 436.5h3M877 436.5h2M945 436.5h1M128 437.5h2M193 437.5h1M793 437.5h1M861 437.5h5M869 437.5h2M949 437.5h1M126 438.5h2M791 438.5h2M950 438.5h2M125 439.5h1M197 439.5h1M789 439.5h2M952 439.5h2M198 440.5h2M120 441.5h2M200 441.5h1M783 441.5h3M957 441.5h3M118 442.5h2M201 442.5h1M781 442.5h2M960 442.5h2M117 443.5h1M777 443.5h1M205 444.5h1M774 444.5h3M965 444.5h1M5 445.5h5M112 445.5h2M206 445.5h1M773 445.5h1M966 445.5h2M13 446.5h5M110 446.5h2M207 446.5h1M968 446.5h2M21 447.5h5M109 447.5h1M208 447.5h1M768 447.5h2M105 448.5h1M209 448.5h1M766 448.5h2M973 448.5h1M29 449.5h5M103 449.5h2M765 449.5h1M974 449.5h2M37 450.5h5M101 450.5h2M976 450.5h2M45 451.5h5M95 451.5h3M213 451.5h1M761 451.5h1M53 452.5h5M80 452.5h2M85 452.5h5M93 452.5h2M214 452.5h1M759 452.5h2M981 452.5h1M61 453.5h5M69 453.5h5M77 453.5h3M215 453.5h2M758 453.5h1M982 453.5h1M217 454.5h1M757 454.5h1M983 454.5h2M985 455.5h1M221 457.5h1M753 457.5h1M989 457.5h1M222 458.5h1M752 458.5h1M990 458.5h1M223 459.5h2M751 459.5h1M991 459.5h2M225 460.5h1M750 460.5h1M993 460.5h1M397 461.5h5M405 461.5h5M749 461.5h1M389 462.5h5M413 462.5h5M997 462.5h1M229 463.5h1M384 463.5h2M421 463.5h5M998 463.5h1M230 464.5h1M382 464.5h2M429 464.5h5M999 464.5h2M231 465.5h1M381 465.5h1M437 465.5h2M745 465.5h1M1001 465.5h1M232 466.5h2M375 466.5h3M439 466.5h2M743 466.5h2M1165 466.5h1M373 467.5h2M441 467.5h1M742 467.5h1M369 468.5h1M741 468.5h1M1005 468.5h2M1160 468.5h2M237 469.5h1M367 469.5h2M445 469.5h2M1007 469.5h2M1158 469.5h2M238 470.5h1M365 470.5h2M447 470.5h2M1009 470.5h1M1157 470.5h1M239 471.5h2M361 471.5h1M449 471.5h1M241 472.5h1M359 472.5h2M453 472.5h1M737 472.5h1M1152 472.5h2M357 473.5h2M454 473.5h2M736 473.5h1M1013 473.5h2M1150 473.5h2M245 474.5h1M456 474.5h2M735 474.5h1M1015 474.5h2M1149 474.5h1M246 475.5h1M353 475.5h1M734 475.5h1M1017 475.5h1M247 476.5h1M352 476.5h1M461 476.5h3M733 476.5h1M1144 476.5h2M248 477.5h2M350 477.5h2M464 477.5h2M1142 477.5h2M349 478.5h1M1021 478.5h2M1141 478.5h1M469 479.5h4M1023 479.5h2M253 480.5h1M344 480.5h2M473 480.5h1M729 480.5h1M1025 480.5h1M1137 480.5h1M254 481.5h1M342 481.5h2M477 481.5h3M728 481.5h1M1136 481.5h1M255 482.5h2M341 482.5h1M480 482.5h2M727 482.5h1M1029 482.5h1M1134 482.5h2M257 483.5h1M485 483.5h2M726 483.5h1M1030 483.5h2M1133 483.5h1M336 484.5h2M487 484.5h3M725 484.5h1M1032 484.5h1M261 485.5h2M334 485.5h2M493 485.5h2M1033 485.5h1M1129 485.5h1M263 486.5h2M333 486.5h1M495 486.5h3M1127 486.5h2M265 487.5h1M501 487.5h1M1037 487.5h2M1125 487.5h2M328 488.5h2M502 488.5h4M721 488.5h1M1039 488.5h2M269 489.5h1M326 489.5h2M720 489.5h1M1041 489.5h1M270 490.5h1M325 490.5h1M509 490.5h2M719 490.5h1M1120 490.5h2M271 491.5h2M321 491.5h1M511 491.5h3M718 491.5h1M1045 491.5h2M1118 491.5h2M273 492.5h1M319 492.5h2M717 492.5h1M1047 492.5h2M1117 492.5h1M317 493.5h2M517 493.5h2M1049 493.5h1M277 494.5h3M311 494.5h3M519 494.5h2M1053 494.5h1M1113 494.5h1M280 495.5h2M305 495.5h1M309 495.5h2M521 495.5h1M613 495.5h4M1054 495.5h2M1111 495.5h2M285 496.5h3M297 496.5h1M301 496.5h4M525 496.5h1M605 496.5h5M617 496.5h1M713 496.5h1M1056 496.5h2M1109 496.5h2M288 497.5h2M293 497.5h4M526 497.5h3M598 497.5h4M621 497.5h3M712 497.5h1M529 498.5h1M597 498.5h1M624 498.5h2M711 498.5h1M1061 498.5h2M1105 498.5h1M533 499.5h2M590 499.5h4M710 499.5h1M1063 499.5h3M1103 499.5h2M535 500.5h3M589 500.5h1M629 500.5h1M709 500.5h1M1101 500.5h2M541 501.5h5M582 501.5h4M630 501.5h2M1069 501.5h2M549 502.5h5M577 502.5h1M581 502.5h1M632 502.5h2M1071 502.5h3M1096 502.5h2M557 503.5h5M569 503.5h1M573 503.5h4M1077 503.5h4M1093 503.5h3M565 504.5h4M637 504.5h1M705 504.5h1M1081 504.5h1M1085 504.5h5M638 505.5h2M704 505.5h1M640 506.5h2M703 506.5h1M702 507.5h1M645 508.5h1M701 508.5h1M646 509.5h2M648 510.5h2M697 511.5h1M696 512.5h1M653 513.5h2M694 513.5h2M655 514.5h2M693 514.5h1M657 515.5h1M661 517.5h3M688 517.5h2M664 518.5h2M686 518.5h2M669 519.5h5M677 519.5h5M685 519.5h1" stroke="#ff0000" stroke-width="1" fill="none" shape-rendering="crispEdges"/>
<text x="8.6" y="427" fill="#000" textLength="134" lengthAdjust="spacingAndGlyphs">MACD(12,26,9) -4.2961 -9.2775</text>
<text x="1190.4" y="424.6" fill="#000" textLength="32.6" lengthAdjust="spacingAndGlyphs">26.0028</text>
<text x="1190.6" y="457" fill="#000" textLength="17.6" lengthAdjust="spacingAndGlyphs">0.00</text>
<text x="1190.4" y="538.6" fill="#000" textLength="36" lengthAdjust="spacingAndGlyphs">-61.4485</text>
<g shape-rendering="crispEdges">
<line x1="6" y1="581.5" x2="1187" y2="581.5" stroke="#b4b4b4" stroke-width="1" stroke-dasharray="3 3"/>
<line x1="6" y1="628.5" x2="1187" y2="628.5" stroke="#b4b4b4" stroke-width="1" stroke-dasharray="3 3"/>
<rect x="1188" y="416" width="1" height="1" fill="#000"/>
<rect x="1188" y="541" width="1" height="1" fill="#000"/>
<rect x="1188" y="546" width="1" height="1" fill="#000"/>
<rect x="1188" y="663" width="1" height="1" fill="#000"/>
<rect x="1188" y="581" width="1" height="1" fill="#000"/>
<rect x="1188" y="628" width="1" height="1" fill="#000"/>
</g>
<path d="M115 584.5h3M101 585.5h4M111 585.5h4M118 585.5h2M99 586.5h2M105 586.5h6M120 586.5h1M97 587.5h2M121 587.5h2M131 587.5h4M96 588.5h1M123 588.5h2M127 588.5h4M135 588.5h4M94 589.5h2M125 589.5h2M139 589.5h3M707 589.5h3M93 590.5h1M142 590.5h2M703 590.5h4M710 590.5h1M91 591.5h2M144 591.5h2M700 591.5h3M710 591.5h1M90 592.5h1M146 592.5h2M697 592.5h3M711 592.5h1M89 593.5h1M148 593.5h2M695 593.5h2M711 593.5h1M780 593.5h2M87 594.5h2M149 594.5h1M693 594.5h2M712 594.5h1M765 594.5h2M777 594.5h3M782 594.5h1M853 594.5h2M867 594.5h12M69 595.5h12M86 595.5h1M150 595.5h1M692 595.5h1M712 595.5h1M749 595.5h1M763 595.5h2M767 595.5h4M775 595.5h2M783 595.5h1M851 595.5h2M855 595.5h4M863 595.5h4M879 595.5h2M68 596.5h1M81 596.5h5M150 596.5h1M692 596.5h1M713 596.5h1M747 596.5h2M750 596.5h2M761 596.5h2M771 596.5h4M784 596.5h1M849 596.5h2M859 596.5h4M881 596.5h3M67 597.5h1M151 597.5h1M691 597.5h1M713 597.5h1M745 597.5h2M752 597.5h2M760 597.5h1M785 597.5h1M848 597.5h1M884 597.5h2M66 598.5h1M151 598.5h1M691 598.5h1M714 598.5h1M744 598.5h1M754 598.5h2M758 598.5h2M786 598.5h1M846 598.5h2M886 598.5h2M905 598.5h5M65 599.5h1M152 599.5h1M690 599.5h1M714 599.5h1M742 599.5h2M756 599.5h2M787 599.5h1M843 599.5h3M888 599.5h1M900 599.5h5M910 599.5h1M65 600.5h1M152 600.5h1M357 600.5h2M690 600.5h1M715 600.5h1M737 600.5h5M788 600.5h1M839 600.5h4M889 600.5h2M897 600.5h3M910 600.5h1M1097 600.5h16M64 601.5h1M153 601.5h1M356 601.5h1M359 601.5h4M689 601.5h1M715 601.5h1M733 601.5h4M789 601.5h4M837 601.5h2M891 601.5h2M895 601.5h2M911 601.5h1M1093 601.5h4M1113 601.5h8M9 602.5h5M63 602.5h1M153 602.5h1M297 602.5h8M331 602.5h11M355 602.5h1M363 602.5h4M688 602.5h1M716 602.5h1M732 602.5h1M793 602.5h5M836 602.5h1M893 602.5h2M912 602.5h1M1092 602.5h1M1121 602.5h5M5 603.5h4M14 603.5h2M62 603.5h1M153 603.5h1M293 603.5h4M305 603.5h8M327 603.5h4M342 603.5h1M355 603.5h1M367 603.5h2M379 603.5h4M688 603.5h1M716 603.5h1M731 603.5h1M798 603.5h2M835 603.5h1M913 603.5h1M925 603.5h1M1091 603.5h1M1126 603.5h1M1149 603.5h4M16 604.5h2M59 604.5h3M154 604.5h1M293 604.5h1M313 604.5h14M343 604.5h1M354 604.5h1M369 604.5h3M375 604.5h4M383 604.5h2M687 604.5h1M717 604.5h1M729 604.5h2M800 604.5h1M812 604.5h5M833 604.5h2M913 604.5h1M923 604.5h2M926 604.5h2M1089 604.5h2M1127 604.5h1M1148 604.5h1M1153 604.5h13M18 605.5h2M55 605.5h4M154 605.5h1M292 605.5h1M344 605.5h1M353 605.5h1M372 605.5h3M385 605.5h3M687 605.5h1M718 605.5h2M728 605.5h1M801 605.5h2M809 605.5h3M817 605.5h6M832 605.5h1M914 605.5h1M922 605.5h1M928 605.5h1M1088 605.5h1M1128 605.5h1M1147 605.5h1M20 606.5h3M52 606.5h3M155 606.5h1M292 606.5h1M345 606.5h1M352 606.5h1M388 606.5h2M665 606.5h6M686 606.5h1M720 606.5h2M727 606.5h1M803 606.5h2M807 606.5h2M823 606.5h2M831 606.5h1M915 606.5h1M921 606.5h1M929 606.5h2M1087 606.5h1M1129 606.5h2M1146 606.5h1M23 607.5h4M50 607.5h2M155 607.5h1M291 607.5h1M346 607.5h1M351 607.5h1M390 607.5h1M660 607.5h5M671 607.5h4M686 607.5h1M722 607.5h2M726 607.5h1M805 607.5h2M825 607.5h3M830 607.5h1M916 607.5h1M919 607.5h2M931 607.5h2M957 607.5h1M1086 607.5h1M1131 607.5h1M1145 607.5h1M27 608.5h6M48 608.5h2M156 608.5h1M291 608.5h1M347 608.5h1M351 608.5h1M391 608.5h1M658 608.5h2M675 608.5h11M724 608.5h2M828 608.5h2M916 608.5h1M918 608.5h1M933 608.5h1M955 608.5h2M958 608.5h1M1083 608.5h3M1132 608.5h1M1144 608.5h1M33 609.5h8M46 609.5h2M156 609.5h1M291 609.5h1M348 609.5h1M350 609.5h1M391 609.5h1M656 609.5h2M917 609.5h1M934 609.5h1M953 609.5h2M959 609.5h1M1079 609.5h4M1133 609.5h2M1143 609.5h1M41 610.5h5M157 610.5h1M197 610.5h1M290 610.5h1M349 610.5h1M392 610.5h1M541 610.5h2M654 610.5h2M935 610.5h2M952 610.5h1M960 610.5h1M1077 610.5h2M1135 610.5h4M1142 610.5h1M157 611.5h1M196 611.5h1M198 611.5h1M290 611.5h1M393 611.5h1M485 611.5h1M541 611.5h1M543 611.5h4M564 611.5h5M577 611.5h8M653 611.5h1M937 611.5h1M950 611.5h2M961 611.5h1M1076 611.5h1M1139 611.5h3M158 612.5h2M195 612.5h1M198 612.5h1M290 612.5h1M394 612.5h1M483 612.5h2M486 612.5h1M540 612.5h1M547 612.5h4M561 612.5h3M569 612.5h8M585 612.5h5M652 612.5h1M938 612.5h1M947 612.5h3M962 612.5h1M1075 612.5h1M160 613.5h2M194 613.5h1M199 613.5h1M289 613.5h1M395 613.5h1M481 613.5h2M487 613.5h1M540 613.5h1M551 613.5h4M559 613.5h2M590 613.5h1M652 613.5h1M939 613.5h2M943 613.5h4M963 613.5h1M988 613.5h3M1052 613.5h2M1074 613.5h1M162 614.5h2M193 614.5h1M199 614.5h1M289 614.5h1M395 614.5h1M421 614.5h2M480 614.5h1M488 614.5h1M539 614.5h1M555 614.5h4M591 614.5h2M651 614.5h1M941 614.5h2M964 614.5h1M986 614.5h2M991 614.5h2M1037 614.5h2M1050 614.5h2M1054 614.5h1M1073 614.5h1M164 615.5h3M192 615.5h1M200 615.5h1M288 615.5h1M396 615.5h1M420 615.5h1M423 615.5h4M478 615.5h2M489 615.5h1M539 615.5h1M593 615.5h1M650 615.5h1M965 615.5h10M984 615.5h2M993 615.5h3M1036 615.5h1M1039 615.5h2M1048 615.5h2M1055 615.5h2M1073 615.5h1M167 616.5h4M191 616.5h1M200 616.5h1M288 616.5h1M397 616.5h1M419 616.5h1M427 616.5h6M477 616.5h1M490 616.5h1M538 616.5h1M594 616.5h1M650 616.5h1M975 616.5h4M982 616.5h2M996 616.5h2M1036 616.5h1M1041 616.5h3M1046 616.5h2M1057 616.5h1M1072 616.5h1M171 617.5h14M190 617.5h1M201 617.5h1M288 617.5h1M398 617.5h2M418 617.5h1M433 617.5h5M476 617.5h1M491 617.5h1M538 617.5h1M595 617.5h2M649 617.5h1M979 617.5h3M998 617.5h2M1035 617.5h1M1044 617.5h2M1058 617.5h1M1071 617.5h1M185 618.5h5M201 618.5h1M287 618.5h1M400 618.5h2M417 618.5h1M438 618.5h1M476 618.5h1M492 618.5h1M538 618.5h1M597 618.5h1M648 618.5h1M1000 618.5h2M1035 618.5h1M1059 618.5h2M1070 618.5h1M202 619.5h1M287 619.5h1M402 619.5h2M417 619.5h1M439 619.5h1M475 619.5h1M493 619.5h2M537 619.5h1M598 619.5h1M648 619.5h1M1002 619.5h2M1034 619.5h1M1061 619.5h9M202 620.5h1M287 620.5h1M404 620.5h3M416 620.5h1M440 620.5h1M452 620.5h3M474 620.5h1M495 620.5h4M537 620.5h1M599 620.5h1M647 620.5h1M1004 620.5h2M1034 620.5h1M203 621.5h1M269 621.5h4M286 621.5h1M407 621.5h2M415 621.5h1M441 621.5h2M450 621.5h2M455 621.5h2M474 621.5h1M499 621.5h3M536 621.5h1M600 621.5h1M646 621.5h1M1006 621.5h1M1033 621.5h1M203 622.5h1M268 622.5h1M273 622.5h6M286 622.5h1M409 622.5h3M414 622.5h1M443 622.5h1M448 622.5h2M457 622.5h3M473 622.5h1M502 622.5h2M536 622.5h1M601 622.5h1M646 622.5h1M1007 622.5h2M1032 622.5h1M204 623.5h1M227 623.5h6M267 623.5h1M279 623.5h4M285 623.5h1M412 623.5h2M444 623.5h1M446 623.5h2M460 623.5h2M472 623.5h1M504 623.5h2M536 623.5h1M602 623.5h1M645 623.5h1M1009 623.5h1M1020 623.5h2M1032 623.5h1M204 624.5h1M223 624.5h4M233 624.5h5M265 624.5h2M283 624.5h3M445 624.5h1M462 624.5h2M472 624.5h1M506 624.5h2M535 624.5h1M603 624.5h1M644 624.5h1M1010 624.5h1M1017 624.5h3M1022 624.5h2M1031 624.5h1M205 625.5h1M217 625.5h6M238 625.5h1M264 625.5h1M464 625.5h1M471 625.5h1M508 625.5h3M535 625.5h1M604 625.5h1M644 625.5h1M1011 625.5h2M1015 625.5h2M1024 625.5h1M1031 625.5h1M205 626.5h12M239 626.5h1M263 626.5h1M465 626.5h2M470 626.5h1M511 626.5h4M534 626.5h1M605 626.5h1M643 626.5h1M1013 626.5h2M1025 626.5h2M1030 626.5h1M240 627.5h1M262 627.5h1M467 627.5h2M470 627.5h1M515 627.5h4M534 627.5h1M606 627.5h2M642 627.5h1M1027 627.5h2M1030 627.5h1M241 628.5h2M257 628.5h5M469 628.5h1M519 628.5h4M533 628.5h1M608 628.5h2M641 628.5h1M1029 628.5h1M243 629.5h1M251 629.5h6M523 629.5h11M610 629.5h2M641 629.5h1M244 630.5h1M247 630.5h4M612 630.5h2M640 630.5h1M245 631.5h2M614 631.5h1M639 631.5h1M615 632.5h1M638 632.5h1M616 633.5h1M638 633.5h1M617 634.5h1M636 634.5h2M618 635.5h1M634 635.5h2M619 636.5h1M632 636.5h2M620 637.5h1M630 637.5h2M621 638.5h9" stroke="#1e90ff" stroke-width="1" fill="none" shape-rendering="crispEdges"/>
<text x="8.6" y="557" fill="#000" textLength="67.5" lengthAdjust="spacingAndGlyphs">RSI(14) 50.7788</text>
<text x="1190.9" y="554.8" fill="#000" textLength="14" lengthAdjust="spacingAndGlyphs">100</text>
<text x="1189.8" y="585" fill="#000" textLength="9.2" lengthAdjust="spacingAndGlyphs">70</text>
<text x="1189.8" y="632" fill="#000" textLength="9.2" lengthAdjust="spacingAndGlyphs">30</text>
<text x="1190.9" y="661.3" fill="#000" textLength="4.4" lengthAdjust="spacingAndGlyphs">0</text>
<g shape-rendering="crispEdges">
<rect x="5" y="665" width="1" height="3" fill="#000"/>
<rect x="69" y="665" width="1" height="3" fill="#000"/>
<rect x="133" y="665" width="1" height="3" fill="#000"/>
<rect x="197" y="665" width="1" height="3" fill="#000"/>
<rect x="261" y="665" width="1" height="3" fill="#000"/>
<rect x="325" y="665" width="1" height="3" fill="#000"/>
<rect x="389" y="665" width="1" height="3" fill="#000"/>
<rect x="453" y="665" width="1" height="3" fill="#000"/>
<rect x="517" y="665" width="1" height="3" fill="#000"/>
<rect x="581" y="665" width="1" height="3" fill="#000"/>
<rect x="645" y="665" width="1" height="3" fill="#000"/>
<rect x="709" y="665" width="1" height="3" fill="#000"/>
<rect x="773" y="665" width="1" height="3" fill="#000"/>
<rect x="837" y="665" width="1" height="3" fill="#000"/>
<rect x="901" y="665" width="1" height="3" fill="#000"/>
<rect x="965" y="665" width="1" height="3" fill="#000"/>
<rect x="1029" y="665" width="1" height="3" fill="#000"/>
<rect x="1093" y="665" width="1" height="3" fill="#000"/>
<rect x="1157" y="665" width="1" height="3" fill="#000"/>
</g>
<text transform="translate(4.3,677) scale(0.935,1)" fill="#000">7 Feb 2022</text>
<text transform="translate(68.3,677) scale(0.935,1)" fill="#000">8 Feb 20:00</text>
<text transform="translate(132.3,677) scale(0.935,1)" fill="#000">10 Feb 04:00</text>
<text transform="translate(196.3,677) scale(0.935,1)" fill="#000">11 Feb 12:00</text>
<text transform="translate(260.3,677) scale(0.935,1)" fill="#000">14 Feb 16:00</text>
<text transform="translate(324.3,677) scale(0.935,1)" fill="#000">16 Feb 00:00</text>
<text transform="translate(388.3,677) scale(0.935,1)" fill="#000">17 Feb 08:00</text>
<text transform="translate(452.3,677) scale(0.935,1)" fill="#000">18 Feb 16:00</text>
<text transform="translate(516.3,677) scale(0.935,1)" fill="#000">21 Feb 23:00</text>
<text transform="translate(580.3,677) scale(0.935,1)" fill="#000">23 Feb 04:00</text>
<text transform="translate(644.3,677) scale(0.935,1)" fill="#000">24 Feb 12:00</text>
<text transform="translate(708.3,677) scale(0.935,1)" fill="#000">25 Feb 20:00</text>
<text transform="translate(772.3,677) scale(0.935,1)" fill="#000">1 Mar 00:00</text>
<text transform="translate(836.3,677) scale(0.935,1)" fill="#000">2 Mar 08:00</text>
<text transform="translate(900.3,677) scale(0.935,1)" fill="#000">3 Mar 16:00</text>
<text transform="translate(964.3,677) scale(0.935,1)" fill="#000">6 Mar 23:00</text>
<text transform="translate(1028.3,677) scale(0.935,1)" fill="#000">8 Mar 04:00</text>
<text transform="translate(1092.3,677) scale(0.935,1)" fill="#000">9 Mar 12:00</text>
<text transform="translate(1156.3,677) scale(0.935,1)" fill="#000">10 Mar 20:00</text>
</svg>
</body></html>
